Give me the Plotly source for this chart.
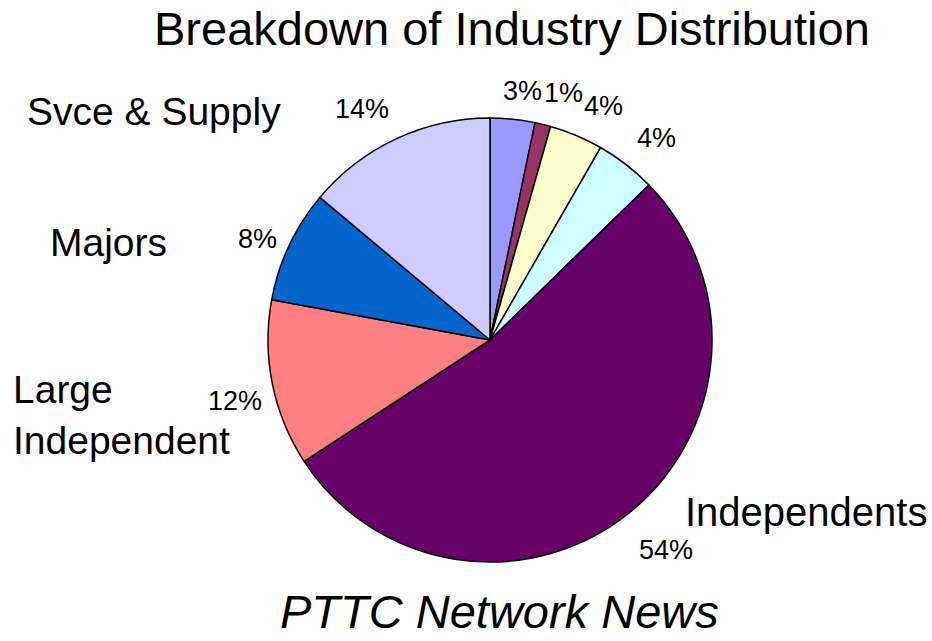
import plotly.graph_objects as go

# Data (clockwise from 12 o'clock)
segments = ["Seg A", "Seg B", "Seg C", "Seg D", "Independents", "Large Independent", "Majors", "Svce & Supply"]
shares = [3.25, 1.15, 3.9, 4.4, 53.1, 12.1, 8.2, 13.9]
pct_labels = ["3%", "1%", "4%", "4%", "54%", "12%", "8%", "14%"]
colors = ["#9999FF", "#993366", "#FFFFCC", "#CCFFFF", "#660066", "#FF8080", "#0066CC", "#CCCCFF"]

W, H = 932, 641
cx, cy, r = 490, 340, 222

fig = go.Figure(go.Pie(
    labels=segments, values=shares, sort=False, direction="clockwise", rotation=0,
    marker=dict(colors=colors, line=dict(color="black", width=1.5)),
    textinfo="none", hoverinfo="label+percent", showlegend=False,
    domain=dict(x=[(cx - r) / W, (cx + r) / W], y=[(H - cy - r) / H, (H - cy + r) / H]),
))

FONT = "Liberation Sans, Arial, sans-serif"

def ann(text, x, y, size, xanchor="center", align="center", italic=False, yanchor="middle"):
    fig.add_annotation(
        text=f"<i>{text}</i>" if italic else text,
        x=x / W, y=1 - y / H, xref="paper", yref="paper",
        xanchor=xanchor, yanchor=yanchor, align=align, showarrow=False,
        font=dict(family=FONT, size=size, color="black"),
    )

# Percentage labels (positions in pixels)
pct_pos = [(522, 91), (563, 93), (603, 106), (656, 138), (666, 550), (235, 401), (257, 239), (362, 109)]
for t, (x, y) in zip(pct_labels, pct_pos):
    ann(t, x, y, 27)

# Category name labels
ann("Svce & Supply", 154, 111, 39)
ann("Majors", 108, 242, 39)
ann("Large<br>Independent", 11, 415, 39, xanchor="left", align="left")
ann("Independents", 806, 512, 40)

# Title and footer
ann("Breakdown of Industry Distribution", 512, 29, 47)
ann("PTTC Network News", 499, 640, 47, italic=True, yanchor="bottom")

fig.update_layout(
    width=W, height=H, margin=dict(l=0, r=0, t=0, b=0),
    paper_bgcolor="white", plot_bgcolor="white",
    font=dict(family=FONT, color="black"),
)

fig.write_html("out.html", config={"displayModeBar": False},
               post_script="document.body.style.margin='0';")
